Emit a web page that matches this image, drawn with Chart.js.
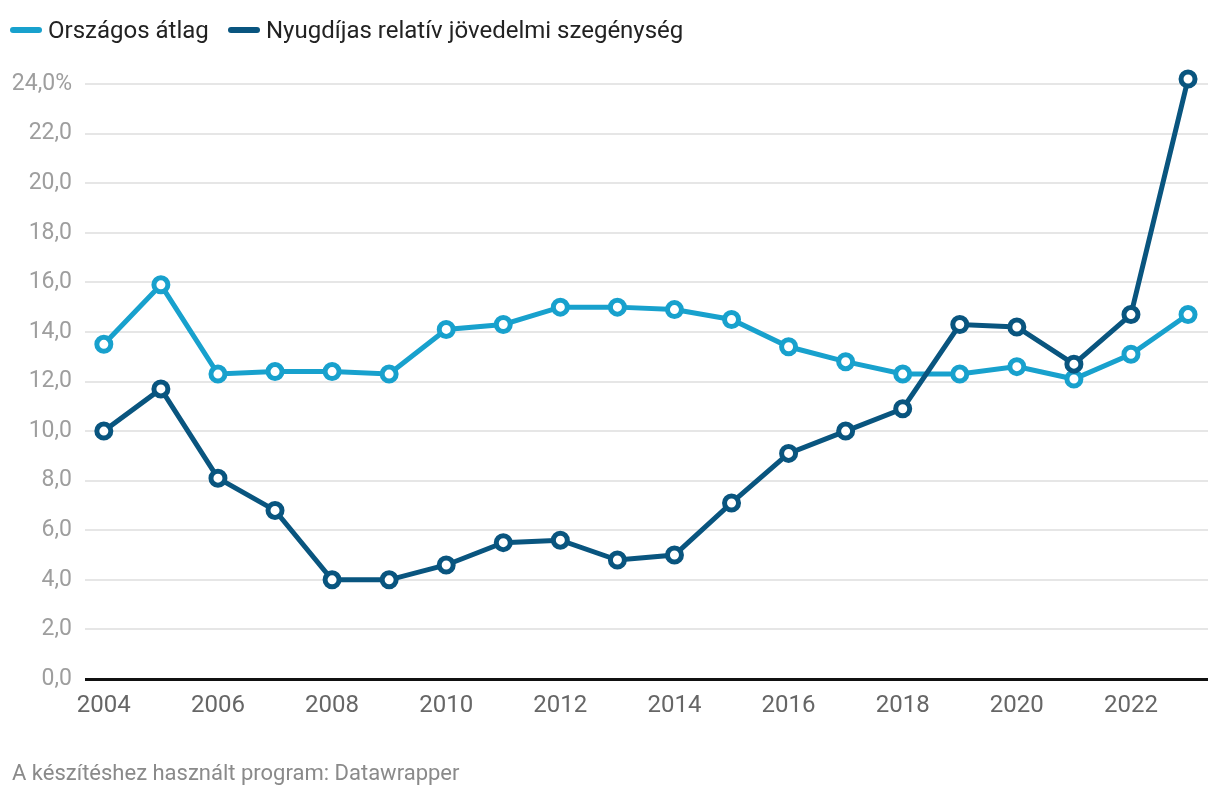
<!DOCTYPE html>
<html>
<head>
<meta charset="utf-8">
<script src="https://cdn.jsdelivr.net/npm/chart.js@4.4.0/dist/chart.umd.min.js"></script>
<style>
  body { margin: 0; background: #fff; font-family: Roboto, sans-serif; }
  #wrap { position: relative; width: 1220px; height: 796px; }
  canvas { position: absolute; left: 0; top: 0; }
  .leg { position: absolute; top: 16px; height: 28px; display: flex; align-items: center; font-size: 24px; color: #222; white-space: nowrap; }
  .leg span.m { display: inline-block; width: 32px; height: 6px; border-radius: 3px; margin-right: 6px; }
  #foot { position: absolute; left: 12px; top: 760px; font-size: 22px; line-height: 26px; color: #8a8a8a; }
</style>
</head>
<body>
<div id="wrap">
  <canvas id="chart" width="1220" height="796"></canvas>
  <div id="legend"></div>
  <div id="foot">A készítéshez használt program: Datawrapper</div>
</div>
<script>
const years = [2004, 2005, 2006, 2007, 2008, 2009, 2010, 2011, 2012, 2013, 2014, 2015, 2016, 2017, 2018, 2019, 2020, 2021, 2022, 2023];
const orszagosAtlag = [13.5, 15.9, 12.3, 12.4, 12.4, 12.3, 14.1, 14.3, 15.0, 15.0, 14.9, 14.5, 13.4, 12.8, 12.3, 12.3, 12.6, 12.1, 13.1, 14.7];
const nyugdijas = [10.0, 11.7, 8.1, 6.8, 4.0, 4.0, 4.6, 5.5, 5.6, 4.8, 5.0, 7.1, 9.1, 10.0, 10.9, 14.3, 14.2, 12.7, 14.7, 24.2];
const xTicks = [2004, 2006, 2008, 2010, 2012, 2014, 2016, 2018, 2020, 2022];
const seriesNames = ['Országos átlag', 'Nyugdíjas relatív jövedelmi szegénység'];
const seriesColors = ['#18a1cd', '#09557f'];

Chart.defaults.font.family = 'Roboto';

// legend drawn as html
const legendLeft = [10, 228];
document.getElementById('legend').innerHTML = seriesNames.map((n, i) =>
  '<div class="leg" style="left:' + legendLeft[i] + 'px"><span class="m" style="background:' + seriesColors[i] + '"></span>' + n + '</div>'
).join('');

function toPoints(vals) {
  return years.map((y, i) => ({ x: y, y: vals[i] }));
}

function ds(i, vals, order) {
  return {
    label: seriesNames[i],
    data: toPoints(vals),
    borderColor: seriesColors[i],
    backgroundColor: '#fff',
    borderWidth: 5,
    pointRadius: 7,
    pointBorderWidth: 5,
    pointBackgroundColor: '#fff',
    pointBorderColor: seriesColors[i],
    tension: 0,
    clip: false,
    order: order
  };
}

new Chart(document.getElementById('chart').getContext('2d'), {
  type: 'line',
  data: {
    datasets: [ds(0, orszagosAtlag, 1), ds(1, nyugdijas, 0)]
  },
  options: {
    responsive: false,
    animation: false,
    layout: { padding: { top: 84, right: 10, bottom: 77, left: 0 } },
    plugins: { legend: { display: false }, tooltip: { enabled: false } },
    scales: {
      x: {
        type: 'linear',
        min: 2003.67,
        max: 2023.35,
        afterBuildTicks: s => { s.ticks = xTicks.map(v => ({ value: v })); },
        afterFit: s => { s.height = 40; },
        grid: { display: false, drawTicks: false },
        border: { display: false },
        ticks: {
          padding: 13,
          color: '#666',
          font: { size: 24 },
          maxRotation: 0,
          callback: v => String(v)
        }
      },
      y: {
        min: 0,
        max: 24,
        afterFit: s => { s.width = 85; },
        border: { display: false },
        grid: {
          drawTicks: false,
          color: c => c.tick && c.tick.value === 0 ? '#111' : '#e6e6e6',
          lineWidth: c => c.tick && c.tick.value === 0 ? 3 : 2
        },
        ticks: {
          stepSize: 2,
          padding: 13,
          color: '#9e9e9e',
          font: { size: 23 },
          callback: v => v === 24 ? '24,0%' : v.toFixed(1).replace('.', ',')
        }
      }
    }
  }
});
</script>
</body>
</html>
